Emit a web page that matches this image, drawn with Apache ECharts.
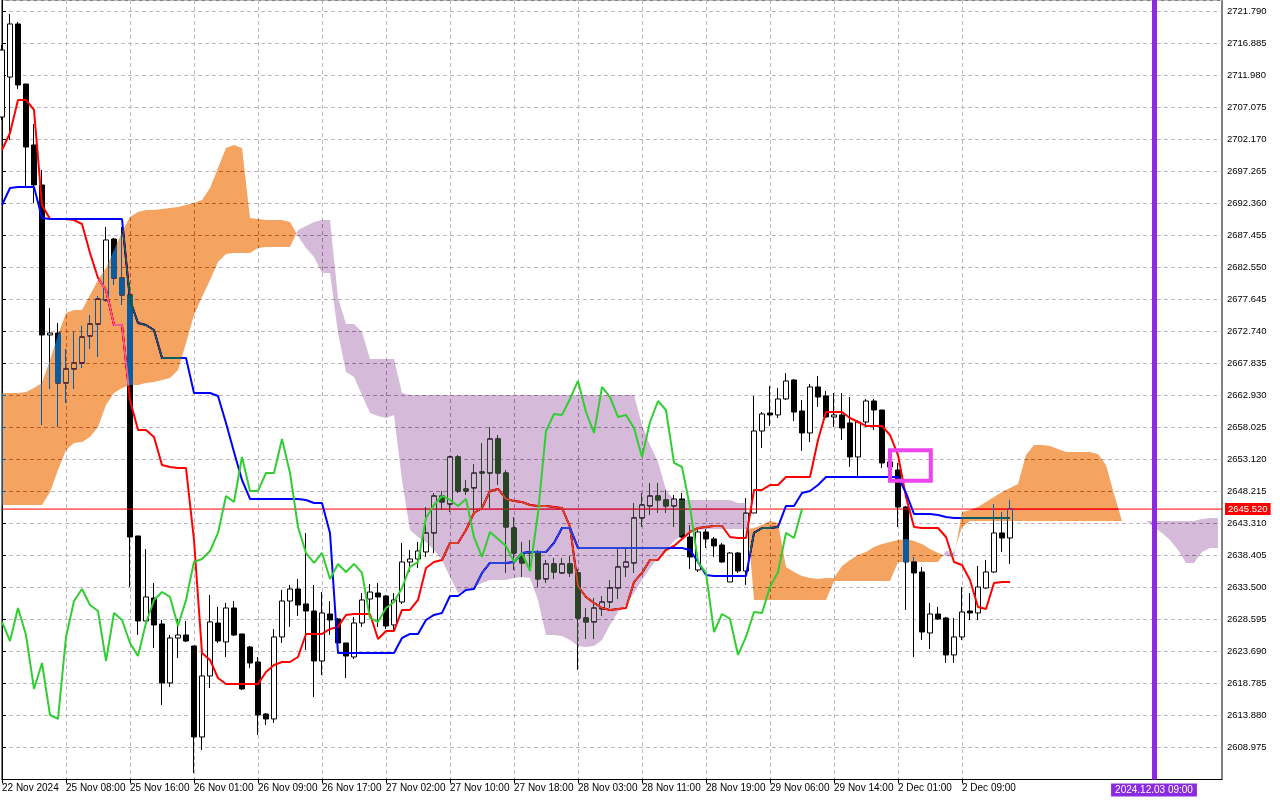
<!DOCTYPE html>
<html>
<head>
<meta charset="utf-8">
<script src="https://cdn.jsdelivr.net/npm/echarts@6/dist/echarts.min.js"></script>
<style>
html,body{margin:0;padding:0;background:#fff;}
#c{width:1280px;height:800px;}
</style>
</head>
<body>
<div id="c"></div>
<script>
// ---- time axis labels (one every 8 hourly bars) ----
const xLabels = ['22 Nov 2024','25 Nov 08:00','25 Nov 16:00','26 Nov 01:00','26 Nov 09:00','26 Nov 17:00',
  '27 Nov 02:00','27 Nov 10:00','27 Nov 18:00','28 Nov 03:00','28 Nov 11:00','28 Nov 19:00',
  '29 Nov 06:00','29 Nov 14:00','2 Dec 01:00','2 Dec 09:00'];

// ---- H1 candles: [open, close, low, high] ----
const ohlc = [
 [2705.62,2715.89,2705.16,2716.66],[2711.75,2719.88,2702.10,2721.41],[2719.88,2710.53,2709.91,2720.18],[2710.68,2701.02,2694.89,2710.68],[2701.33,2695.20,2692.44,2704.55],
 [2695.20,2672.21,2658.41,2697.50],[2672.21,2672.51,2663.93,2676.35],[2672.51,2664.85,2658.11,2674.05],[2664.85,2667.00,2661.78,2670.06],[2667.00,2667.92,2663.93,2672.67],
 [2667.92,2671.90,2667.15,2673.59],[2672.05,2673.89,2670.06,2675.27],[2673.89,2677.72,2668.83,2678.18],[2677.57,2686.77,2677.27,2688.76],[2686.92,2680.94,2679.87,2687.08],
 [2680.94,2678.34,2676.81,2688.76],[2678.34,2641.24,2633.58,2680.18],[2641.40,2628.37,2626.22,2641.40],[2628.37,2632.05,2628.37,2639.40],[2631.89,2627.76,2624.23,2634.19],
 [2627.91,2618.87,2615.49,2628.52],[2618.87,2625.76,2618.25,2626.22],[2625.76,2626.22,2622.70,2628.68],[2626.22,2625.30,2625.15,2628.37],[2624.54,2610.59,2605.07,2624.54],
 [2610.59,2619.94,2608.60,2623.46],[2619.94,2628.22,2618.10,2632.35],[2628.06,2625.30,2625.00,2630.52],[2625.15,2630.36,2622.85,2631.13],[2630.36,2626.22,2626.07,2631.43],
 [2626.38,2617.95,2617.79,2626.38],[2624.38,2621.93,2621.17,2624.54],[2622.08,2613.96,2610.90,2622.85],[2614.11,2613.35,2612.43,2614.27],[2613.35,2625.92,2612.73,2627.14],
 [2625.92,2631.43,2625.00,2633.12],[2631.43,2633.27,2627.45,2633.89],[2633.27,2630.82,2629.14,2634.81],[2630.98,2629.90,2623.92,2641.86],[2629.90,2622.24,2616.72,2633.89],
 [2622.24,2629.60,2620.09,2632.81],[2629.44,2628.52,2626.22,2631.43],[2628.68,2625.00,2624.38,2628.83],[2625.00,2623.00,2619.63,2625.00],[2622.85,2628.06,2622.54,2628.99],
 [2628.06,2631.59,2627.45,2632.66],[2631.74,2632.81,2629.60,2634.04],[2632.66,2632.05,2627.45,2634.19],[2632.20,2627.60,2627.14,2632.35],[2627.76,2631.59,2626.68,2632.66],
 [2631.28,2637.41,2630.98,2640.32],[2637.41,2637.87,2635.88,2639.25],[2637.87,2639.10,2636.49,2640.48],[2638.95,2641.86,2638.18,2645.84],[2641.86,2647.53,2638.79,2647.99],
 [2647.53,2646.61,2645.38,2648.30],[2646.30,2653.51,2645.08,2653.67],[2653.51,2648.30,2647.99,2653.81],[2648.60,2648.30,2647.68,2649.98],[2648.76,2651.05,2644.92,2652.43],
 [2651.21,2651.05,2645.69,2655.65],[2651.05,2656.27,2645.69,2658.11],[2656.27,2651.05,2649.21,2656.88],[2651.05,2642.78,2635.73,2651.51],[2642.62,2638.79,2636.19,2644.31],
 [2638.49,2637.26,2635.11,2640.48],[2638.95,2638.79,2636.19,2640.78],[2638.79,2634.81,2633.58,2639.25],[2634.81,2637.11,2634.19,2637.72],[2637.11,2635.88,2634.81,2638.03],
 [2635.73,2637.11,2635.57,2638.03],[2637.11,2635.73,2635.11,2638.33],[2635.73,2628.83,2620.86,2636.34],[2628.83,2628.22,2625.61,2630.36],[2628.22,2630.36,2625.61,2631.89],
 [2630.21,2631.28,2629.14,2632.20],[2631.28,2633.43,2630.36,2634.65],[2633.43,2636.65,2631.74,2639.56],[2636.65,2637.41,2635.11,2639.56],[2637.26,2644.16,2635.73,2646.46],
 [2644.16,2646.15,2642.78,2647.99],[2646.00,2647.53,2644.62,2649.52],[2647.53,2646.92,2644.92,2649.52],[2646.92,2646.00,2644.92,2648.45],[2646.00,2647.07,2642.78,2647.68],
 [2647.07,2641.24,2641.09,2647.99],[2641.24,2638.18,2636.34,2643.08],[2636.19,2642.01,2635.88,2642.78],[2642.01,2640.94,2639.56,2642.47],[2640.94,2639.87,2638.18,2641.24],
 [2640.02,2637.41,2637.26,2640.32],[2634.35,2638.79,2634.35,2638.95],[2638.79,2636.03,2635.73,2638.95],[2636.03,2644.92,2633.89,2647.22],[2644.92,2657.49,2644.92,2662.86],
 [2657.49,2660.10,2654.89,2660.40],[2660.25,2659.95,2658.26,2664.39],[2659.95,2662.40,2659.48,2664.08],[2662.40,2665.16,2662.24,2666.38],[2665.31,2660.40,2659.02,2665.46],
 [2660.56,2657.19,2654.43,2662.24],[2657.19,2664.24,2655.81,2664.70],[2664.24,2662.70,2661.17,2665.92],[2662.86,2659.64,2659.48,2663.62],[2659.64,2659.95,2658.11,2663.32],
 [2659.95,2657.95,2656.11,2663.32],[2658.72,2653.51,2651.97,2662.70],[2653.51,2658.87,2650.44,2659.18],[2658.87,2662.09,2658.11,2662.40],[2662.09,2660.71,2657.65,2662.40],
 [2660.71,2652.59,2651.82,2660.71],[2652.74,2651.97,2650.75,2654.27],[2651.51,2645.84,2642.78,2652.59],[2645.84,2637.41,2630.06,2646.00],[2637.41,2635.73,2622.85,2638.18],
 [2635.88,2626.68,2625.46,2636.65],[2626.53,2629.44,2624.08,2631.13],[2629.44,2628.68,2628.52,2630.52],[2628.83,2623.16,2621.93,2628.99],[2623.16,2625.92,2621.93,2628.83],
 [2625.92,2629.75,2625.46,2633.58],[2629.90,2629.60,2628.52,2632.66],[2629.60,2633.58,2628.52,2636.80],[2633.43,2635.88,2633.27,2637.72],[2635.88,2641.86,2635.73,2646.30],
 [2641.86,2641.09,2638.95,2645.08],[2641.09,2645.52,2637.11,2646.92]
];

// ---- Tenkan-sen (red) ----
const tenkan = [
 2700.56,2703.17,2708.23,2708.23,2706.70,2692.13,2689.99,2689.99,2689.99,2689.83,
 2689.22,2684.78,2680.94,2679.10,2673.74,2673.74,2662.24,2657.65,2657.65,2656.57,
 2652.28,2651.97,2651.82,2651.82,2640.78,2623.46,2622.39,2619.63,2618.71,2618.71,
 2618.71,2618.71,2618.71,2620.55,2621.62,2622.08,2622.08,2622.85,2626.38,2626.38,
 2626.38,2627.14,2627.45,2629.29,2629.44,2629.44,2629.44,2625.61,2626.84,2626.84,
 2630.06,2630.06,2631.59,2636.49,2637.41,2637.72,2640.32,2640.32,2642.32,2644.92,
 2645.69,2648.30,2648.60,2647.07,2646.76,2646.61,2646.15,2646.00,2646.00,2645.84,
 2645.69,2642.78,2633.73,2632.05,2631.13,2630.36,2630.06,2630.21,2630.36,2634.35,
 2635.73,2637.72,2637.72,2639.25,2639.87,2640.94,2642.01,2642.62,2642.78,2642.93,
 2642.93,2641.24,2641.09,2641.09,2648.45,2648.45,2649.21,2649.21,2650.44,2650.44,
 2650.44,2650.44,2656.11,2660.40,2660.40,2660.40,2659.48,2658.87,2658.26,2658.26,
 2658.26,2656.88,2653.81,2647.38,2642.78,2642.62,2642.62,2642.62,2641.24,2637.41,
 2636.95,2634.65,2630.52,2630.21,2634.19,2634.35,2634.35
];

// ---- Kijun-sen (blue) ----
const kijun = [
 2692.13,2694.74,2694.89,2694.89,2694.89,2690.14,2689.99,2689.99,2689.99,2689.99,
 2689.99,2689.99,2689.99,2689.99,2689.99,2689.99,2677.57,2674.05,2673.74,2672.97,
 2668.68,2668.68,2668.68,2668.68,2663.32,2663.32,2663.32,2662.86,2658.72,2654.27,
 2649.98,2647.07,2647.07,2647.07,2647.07,2647.07,2647.07,2647.07,2646.92,2646.46,
 2646.46,2641.86,2623.46,2623.46,2623.46,2623.46,2623.46,2623.46,2623.46,2623.46,
 2625.76,2626.38,2626.38,2628.52,2629.29,2629.60,2632.20,2632.20,2633.12,2633.27,
 2635.73,2637.26,2637.26,2637.26,2637.41,2638.79,2638.95,2638.95,2638.95,2640.32,
 2642.62,2642.62,2639.56,2639.56,2639.56,2639.56,2639.56,2639.56,2639.56,2639.56,
 2639.56,2639.56,2639.56,2639.56,2639.56,2639.56,2639.25,2637.41,2635.42,2635.27,
 2635.27,2635.27,2635.27,2635.27,2641.86,2642.62,2642.62,2642.78,2646.00,2646.00,
 2647.99,2648.30,2649.21,2650.44,2650.44,2650.44,2650.44,2650.44,2650.44,2650.44,
 2650.44,2650.44,2650.44,2647.99,2644.77,2644.77,2644.77,2644.62,2644.31,2644.16,
 2644.16,2644.16,2644.16,2644.16,2644.16,2644.16,2644.16
];

// ---- Chikou span (green), plotted from bar 0 ----
const chikou = [
 2628.22,2625.30,2630.36,2626.22,2617.95,2621.93,2613.96,2613.35,2625.92,2631.43,
 2633.27,2630.82,2629.90,2622.24,2629.60,2628.52,2625.00,2623.00,2628.06,2631.59,
 2632.81,2632.05,2627.60,2631.59,2637.41,2637.87,2639.10,2641.86,2647.53,2646.61,
 2653.51,2648.30,2648.30,2651.05,2651.05,2656.27,2651.05,2642.78,2638.79,2637.26,
 2638.79,2634.81,2637.11,2635.88,2637.11,2635.73,2628.83,2628.22,2630.36,2631.28,
 2633.43,2636.65,2637.41,2644.16,2646.15,2647.53,2646.92,2646.00,2647.07,2641.24,
 2638.18,2642.01,2640.94,2639.87,2637.41,2638.79,2636.03,2644.92,2657.49,2660.10,
 2659.95,2662.40,2665.16,2660.40,2657.19,2664.24,2662.70,2659.64,2659.95,2657.95,
 2653.51,2658.87,2662.09,2660.71,2652.59,2651.97,2645.84,2637.41,2635.73,2626.68,
 2629.44,2628.68,2623.16,2625.92,2629.75,2629.60,2633.58,2635.88,2641.86,2641.09,
 2645.52
];

// ---- Senkou span A / B (cloud), bars 0..152 ----
const spanA = [
 2663.32,2663.32,2663.32,2663.47,2664.08,2664.85,2668.38,2672.21,2675.58,2676.04,
 2676.04,2678.34,2680.64,2682.48,2685.24,2687.99,2690.29,2691.06,2691.37,2691.37,
 2691.52,2691.67,2691.83,2692.13,2692.44,2692.90,2694.74,2697.80,2700.87,2701.33,
 2700.87,2690.14,2689.99,2689.83,2689.83,2689.83,2689.53,2687.38,2685.54,2684.16,
 2681.71,2681.71,2672.51,2666.54,2665.77,2663.01,2660.25,2659.79,2659.48,2659.95,
 2649.98,2642.32,2641.24,2640.48,2639.25,2637.72,2635.11,2632.66,2633.12,2633.58,
 2634.19,2634.65,2634.65,2634.65,2634.96,2635.11,2634.96,2631.59,2626.22,2626.22,
 2626.07,2625.46,2624.54,2624.38,2624.54,2625.46,2627.76,2629.75,2630.82,2632.66,
 2634.65,2636.49,2638.03,2639.25,2640.63,2641.55,2641.86,2642.32,2642.47,2642.47,
 2642.47,2642.47,2642.47,2642.47,2642.62,2643.08,2643.70,2643.39,2636.65,2635.88,
 2635.27,2634.96,2634.81,2634.96,2634.96,2636.80,2637.72,2638.49,2638.95,2639.71,
 2640.17,2640.48,2640.78,2640.94,2640.63,2640.17,2639.40,2638.79,2638.33,2638.18,
 2645.08,2645.38,2645.84,2646.61,2647.38,2648.14,2648.76,2649.37,2653.81,2655.35,
 2655.35,2655.19,2654.73,2654.27,2654.27,2654.27,2654.27,2653.97,2652.28,2647.84,
 2643.70,2643.70,2643.70,2643.70,2642.78,2641.86,2640.78,2639.25,2637.26,2637.26,
 2638.95,2639.56,2639.56
];
const spanB = [
 2646.15,2646.15,2646.15,2646.15,2646.15,2646.15,2648.14,2651.51,2654.58,2655.65,
 2655.81,2656.57,2658.11,2661.48,2663.32,2664.08,2664.54,2664.54,2664.85,2665.00,
 2665.31,2665.62,2666.84,2670.98,2675.27,2678.03,2680.64,2683.40,2684.62,2684.78,
 2684.78,2684.78,2685.54,2685.70,2685.70,2685.70,2685.70,2688.30,2688.92,2689.53,
 2689.83,2689.83,2677.88,2673.89,2673.89,2672.67,2668.53,2668.53,2668.53,2668.53,
 2663.32,2663.01,2663.01,2663.01,2663.01,2663.01,2663.01,2663.01,2663.01,2663.01,
 2663.01,2663.01,2663.01,2663.01,2663.01,2663.01,2663.01,2663.01,2663.01,2663.01,
 2663.01,2663.01,2663.01,2663.01,2663.01,2663.01,2663.01,2663.01,2663.01,2663.01,
 2658.41,2655.35,2652.74,2648.45,2646.92,2646.92,2646.92,2646.92,2646.92,2646.92,
 2646.92,2646.92,2646.46,2646.46,2631.59,2631.59,2631.59,2631.59,2631.59,2631.59,
 2631.59,2631.59,2631.59,2631.59,2634.50,2634.50,2634.50,2634.50,2634.50,2634.50,
 2634.50,2634.50,2637.41,2637.41,2637.41,2637.41,2637.41,2637.41,2639.10,2638.95,
 2642.78,2643.70,2643.70,2643.70,2643.70,2643.70,2643.70,2643.70,2643.70,2643.70,
 2643.70,2643.70,2643.70,2643.70,2643.70,2643.70,2643.70,2643.70,2643.70,2643.70,
 2643.70,2643.70,2643.70,2643.70,2643.70,2643.70,2643.70,2643.70,2643.70,2643.70,
 2644.00,2644.16,2644.16
];

// ---- price scale, bid line, annotations ----
const priceMin = 2604.070, priceMax = 2723.556, priceStep = 4.905;
const bidPrice = 2645.52;
const bidSpan = [0, 152.5];
const markerBar = 144, markerText = '2024.12.03 09:00';
const boxCorners = [[111.0, 2654.53], [116.1, 2649.87]];

// cloud colours are applied with "difference" blending (MetaTrader XOR look)
const KUMO_UP = '#0b5b9f';   // shows as sandy brown on white
const KUMO_DN = '#294525';   // shows as thistle on white

const FONT = "'Liberation Sans', Arial, sans-serif";
const gridLine = { show: true, lineStyle: { color: '#c0b6c0', width: 1, type: [4, 3] } };

function renderKumo(params, api) {
  const polys = [];
  let cur = null;
  for (let i = 0; i < spanA.length; i++) {
    const a = spanA[i], b = spanB[i], up = a >= b;
    if (cur && cur.up !== up) {
      const pa = spanA[i - 1], pb = spanB[i - 1];
      const d0 = pa - pb, d1 = a - b;
      const t = d0 / (d0 - d1);
      const pt = [i - 1 + t, pa + (a - pa) * t];
      cur.a.push(pt); cur.b.push(pt);
      polys.push(cur);
      cur = { up: up, a: [pt], b: [pt] };
    }
    if (!cur) cur = { up: up, a: [], b: [] };
    cur.a.push([i, a]); cur.b.push([i, b]);
  }
  if (cur) polys.push(cur);
  return {
    type: 'group',
    children: polys.map(p => ({
      type: 'polygon',
      silent: true,
      shape: { points: p.a.concat(p.b.slice().reverse()).map(v => api.coord(v)) },
      style: { fill: p.up ? KUMO_UP : KUMO_DN, stroke: null, blend: 'difference' }
    }))
  };
}

const chart = echarts.init(document.getElementById('c'), null, { renderer: 'canvas', width: 1280, height: 800 });
const labelTicks = xLabels.map((_, k) => k * 8);

chart.setOption({
  animation: false,
  backgroundColor: '#ffffff',
  color: ['#ff0000', '#0000ff', '#32cd32', '#ff0000'],
  grid: {
    left: 2, right: 58, top: 0, bottom: 20.5,
    show: true, borderColor: '#000', borderWidth: 1, backgroundColor: 'transparent',
    containLabel: false, outerBoundsMode: 'none'
  },
  xAxis: {
    type: 'value', min: 0, max: 152.5, interval: 4,
    axisLine: { show: true, lineStyle: { color: '#000', width: 1 } },
    axisTick: { show: true, length: 4, lineStyle: { color: '#000' }, customValues: labelTicks },
    axisLabel: {
      customValues: labelTicks,
      formatter: v => { const k = Math.round(v / 8); return (Math.abs(v - k * 8) < 1e-6 && xLabels[k]) ? xLabels[k] : ''; },
      align: 'left', color: '#000', fontSize: 10, fontFamily: FONT, margin: 4
    },
    splitLine: gridLine
  },
  yAxis: {
    type: 'value', position: 'right', min: priceMin, max: priceMax, interval: priceStep, scale: true,
    axisLine: { show: true, lineStyle: { color: '#000', width: 1 } },
    axisTick: { show: true, length: 4, lineStyle: { color: '#000' } },
    axisLabel: {
      formatter: v => v.toFixed(3), showMinLabel: false, showMaxLabel: false,
      color: '#000', fontSize: 9.5, fontFamily: FONT, margin: 5
    },
    splitLine: gridLine
  },
  series: [
    {
      type: 'candlestick', name: 'XAUUSD,H1', z: 2, silent: true, clip: true,
      data: ohlc.map((d, i) => [i, d[0], d[1], d[2], d[3]]),
      encode: { x: 0, y: [1, 2, 3, 4] },
      barWidth: 5,
      itemStyle: { color: '#ffffff', color0: '#000000', borderColor: '#000000', borderColor0: '#000000', borderColorDoji: '#000000', borderWidth: 1 }
    },
    {
      type: 'line', name: 'Bid', z: 3, silent: true, symbol: 'none', clip: false,
      data: bidSpan.map(x => [x, bidPrice]),
      itemStyle: { color: '#ff0000' },
      lineStyle: { color: '#ff0000', width: 1 },
      endLabel: {
        show: true, distance: 3, formatter: () => bidPrice.toFixed(3),
        backgroundColor: '#ff0000', color: '#ffffff', padding: [1, 3, 1, 3], fontSize: 9.5, fontFamily: FONT
      }
    },
    {
      type: 'line', name: 'Tenkan-sen', z: 3, silent: true, symbol: 'none',
      data: tenkan.map((v, i) => [i, v]),
      itemStyle: { color: '#ff0000' },
      lineStyle: { color: '#ff0000', width: 2 }
    },
    {
      type: 'line', name: 'Kijun-sen', z: 3, silent: true, symbol: 'none',
      data: kijun.map((v, i) => [i, v]),
      itemStyle: { color: '#0000ff' },
      lineStyle: { color: '#0000ff', width: 2 }
    },
    {
      type: 'line', name: 'Chikou Span', z: 5, silent: true, symbol: 'none',
      data: chikou.map((v, i) => [i, v]),
      itemStyle: { color: '#32cd32' },
      lineStyle: { color: '#32cd32', width: 2 },
      markLine: {
        z: 10, silent: true, symbol: ['none', 'none'], animation: false,
        data: [{ xAxis: markerBar }],
        itemStyle: { color: '#8a2be2' },
        lineStyle: { color: '#8a2be2', width: 5, type: 'solid' },
        label: {
          show: true, position: 'start', distance: 4, formatter: () => markerText,
          backgroundColor: '#8a2be2', color: '#fff', padding: [2, 4, 1, 4], fontSize: 10, fontFamily: FONT
        }
      },
      markArea: {
        z: 10, silent: true,
        itemStyle: { color: 'rgba(0,0,0,0)', borderColor: '#ee44ee', borderWidth: 4, borderType: 'solid' },
        label: { show: false },
        data: [[{ xAxis: boxCorners[0][0], yAxis: boxCorners[0][1] }, { xAxis: boxCorners[1][0], yAxis: boxCorners[1][1] }]]
      }
    },
    {
      type: 'custom', name: 'Kumo', z: 4, silent: true, clip: true,
      blendMode: 'difference',
      data: [[0, spanA[0]]],
      encode: { x: 0, y: 1 },
      renderItem: renderKumo
    }
  ]
});
</script>
</body>
</html>
